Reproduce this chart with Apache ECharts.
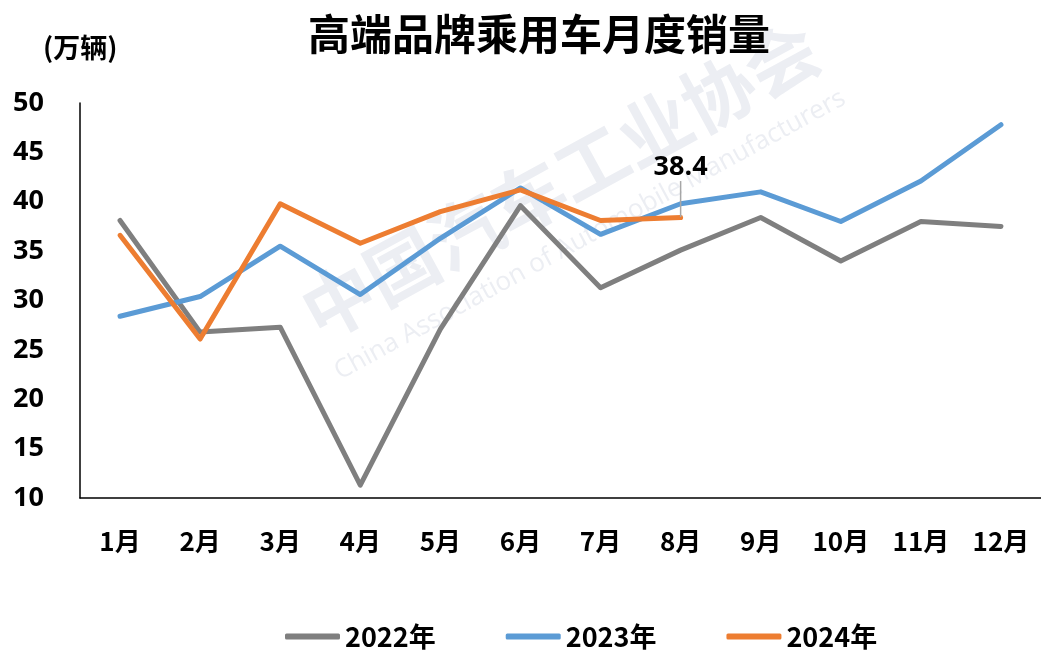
<!DOCTYPE html>
<html>
<head>
<meta charset="utf-8">
<script src="https://cdn.jsdelivr.net/npm/echarts@6/dist/echarts.min.js"></script>
<style>html,body{margin:0;padding:0;background:#fff;}#c{width:1041px;height:655px;}</style>
</head>
<body>
<div id="c"></div>
<script>
const months = ['1月','2月','3月','4月','5月','6月','7月','8月','9月','10月','11月','12月'];
const yTicks = [10, 15, 20, 25, 30, 35, 40, 45, 50];
const s2022 = [38.1, 26.8, 27.3, 11.3, 27.1, 39.6, 31.3, 35.1, 38.4, 34.0, 38.0, 37.5];
const s2023 = [28.4, 30.4, 35.5, 30.6, 36.3, 41.4, 36.7, 39.8, 41.0, 38.0, 42.1, 47.8];
const s2024 = [36.6, 26.1, 39.8, 35.8, 39.0, 41.2, 38.1, 38.4];
const seriesNames = ['2022年', '2023年', '2024年'];

const chart = echarts.init(document.getElementById('c'), null, {renderer: 'canvas'});
const cjk = '"Noto Sans CJK SC", "Noto Sans", sans-serif';
const num = '"Open Sans", "Noto Sans", sans-serif';

function lineSeries(name, data, color, extra) {
  return Object.assign({
    name: name,
    type: 'line',
    data: data,
    showSymbol: false,
    symbol: 'none',
    lineStyle: {color: color, width: 5, cap: 'round', join: 'round'},
    itemStyle: {color: color},
    emphasis: {disabled: true},
    animation: false
  }, extra || {});
}

const last = s2024.length - 1;
const d2024 = s2024.map((v, i) => i === last ? {
  value: v,
  symbolSize: 1,
  label: {show: true, position: 'top', formatter: '{c}', color: '#000', fontSize: 27, fontWeight: 'bold', fontFamily: num, distance: 0},
  labelLine: {show: true, lineStyle: {color: '#a6a6a6', width: 1.5}, length2: 0}
} : {value: v, symbolSize: 0});

chart.setOption({
  backgroundColor: '#fff',
  animation: false,
  graphic: [
    {type: 'text', x: 560, y: 180, rotation: 0.5, z: -10, silent: true,
     style: {text: '中国汽车工业协会', fill: '#eceef3', font: 'bold 72px "Noto Sans CJK SC"', align: 'center', verticalAlign: 'middle'}},
    {type: 'text', x: 590, y: 235, rotation: 0.5, z: -10, silent: true,
     style: {text: 'China Association of Automobile Manufacturers', fill: '#eceef3', font: '26px "Open Sans"', align: 'center', verticalAlign: 'middle'}}
  ],
  title: [
    {text: '高端品牌乘用车月度销量', left: 303, top: 8,
     textStyle: {fontSize: 42, fontWeight: 'bold', color: '#000', fontFamily: cjk}},
    {text: '(万辆)', left: 38, top: 29,
     textStyle: {fontSize: 27, fontWeight: 'bold', color: '#000', fontFamily: cjk}}
  ],
  legend: {
    data: seriesNames,
    bottom: 0,
    left: 280,
    icon: 'roundRect',
    itemWidth: 55,
    itemHeight: 6,
    itemGap: 70,
    textStyle: {fontSize: 27, fontWeight: 'bold', color: '#000', fontFamily: cjk}
  },
  grid: {left: 80, top: 103, width: 965, height: 395, containLabel: false},
  xAxis: {
    type: 'category',
    data: months,
    boundaryGap: true,
    axisLine: {show: true, lineStyle: {color: '#000', width: 1.5}},
    axisTick: {show: false},
    axisLabel: {fontSize: 26, fontWeight: 'bold', color: '#000', fontFamily: cjk, margin: 30},
    splitLine: {show: false}
  },
  yAxis: {
    type: 'value',
    min: yTicks[0],
    max: yTicks[yTicks.length - 1],
    interval: yTicks[1] - yTicks[0],
    axisLine: {show: true, lineStyle: {color: '#000', width: 1.5}},
    axisTick: {show: false},
    splitLine: {show: false},
    axisLabel: {fontSize: 27, fontWeight: 'bold', color: '#000', fontFamily: num, margin: 36}
  },
  series: [
    lineSeries(seriesNames[0], s2022, '#7f7f7f'),
    lineSeries(seriesNames[1], s2023, '#5b9bd5'),
    lineSeries(seriesNames[2], d2024, '#ed7d31', {
      symbol: 'circle',
      showSymbol: true,
      labelLayout: function (p) { return p.dataIndex === last ? {dy: -36} : {}; }
    })
  ]
});
</script>
</body>
</html>
